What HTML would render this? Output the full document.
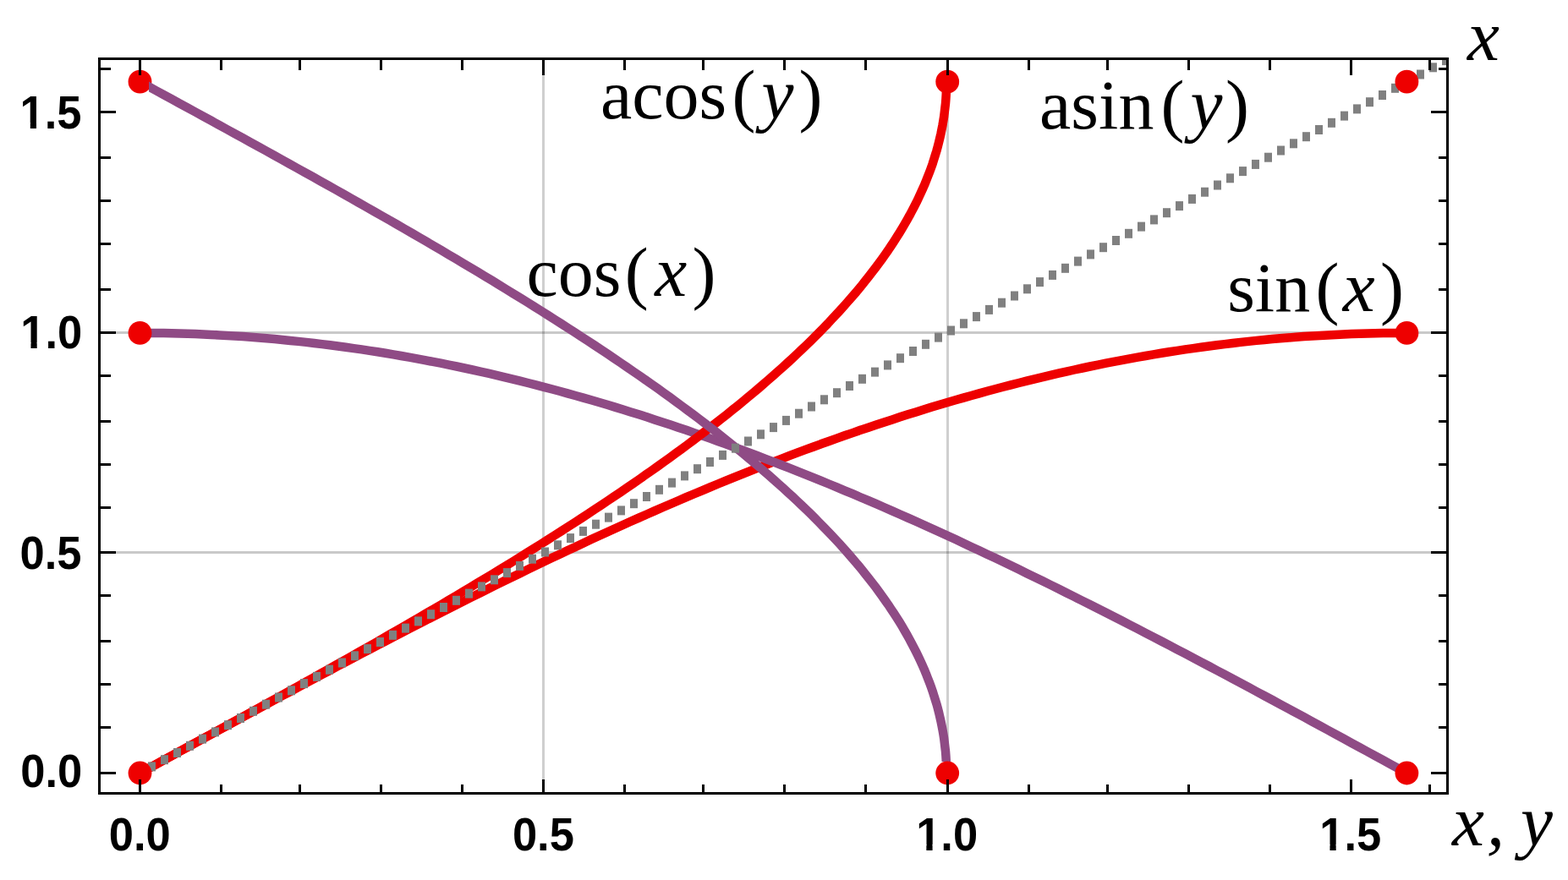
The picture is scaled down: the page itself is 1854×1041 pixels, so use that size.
<!DOCTYPE html>
<html lang="en"><head><meta charset="utf-8"><title>sin, cos, asin, acos</title>
<style>html,body{margin:0;padding:0;background:#fff;overflow:hidden}svg{display:block}.m{font-family:"Liberation Serif",serif;font-size:84px;fill:#000}.i{font-style:italic;font-size:85.5px}.t{font-family:"Liberation Sans",sans-serif;font-weight:bold;font-size:54px;fill:#000}</style></head><body>
<svg width="1854" height="1041" viewBox="0 0 1854 1041">
<defs><clipPath id="in"><rect x="119" y="71" width="1591" height="866"/></clipPath>
<clipPath id="ac"><rect x="176" y="68" width="1537" height="833"/></clipPath></defs>
<rect width="1854" height="1041" fill="#fff"/>
<g fill="#000" shape-rendering="crispEdges">
<rect x="641" y="68" width="3" height="872" fill-opacity="0.19"/>
<rect x="1119" y="68" width="3" height="872" fill-opacity="0.19"/>
<rect x="116" y="652" width="1597" height="3" fill-opacity="0.21"/>
<rect x="116" y="392" width="1597" height="3" fill-opacity="0.21"/>
</g>
<g fill="none" stroke-width="10.5" stroke-linejoin="round" stroke-linecap="butt">
<path stroke="#ee0000" d="M165.5 914.5 L174.9 909.4 L184.2 904.3 L193.6 899.2 L202.9 894.1 L212.3 889.0 L221.7 883.9 L231.0 878.8 L240.4 873.7 L249.8 868.6 L259.1 863.5 L268.5 858.4 L277.8 853.3 L287.2 848.2 L296.6 843.2 L305.9 838.1 L315.3 833.1 L324.7 828.0 L334.0 823.0 L343.4 818.0 L352.7 812.9 L362.1 807.9 L371.5 802.9 L380.8 797.9 L390.2 793.0 L399.5 788.0 L408.9 783.1 L418.3 778.1 L427.6 773.2 L437.0 768.3 L446.4 763.4 L455.7 758.5 L465.1 753.6 L474.4 748.8 L483.8 743.9 L493.2 739.1 L502.5 734.3 L511.9 729.5 L521.3 724.8 L530.6 720.0 L540.0 715.3 L549.3 710.6 L558.7 705.9 L568.1 701.2 L577.4 696.5 L586.8 691.9 L596.1 687.3 L605.5 682.7 L614.9 678.2 L624.2 673.6 L633.6 669.1 L643.0 664.6 L652.3 660.1 L661.7 655.7 L671.0 651.3 L680.4 646.9 L689.8 642.5 L699.1 638.1 L708.5 633.8 L717.9 629.5 L727.2 625.3 L736.6 621.0 L745.9 616.8 L755.3 612.6 L764.7 608.5 L774.0 604.4 L783.4 600.3 L792.8 596.2 L802.1 592.2 L811.5 588.2 L820.8 584.2 L830.2 580.3 L839.6 576.4 L848.9 572.5 L858.3 568.7 L867.6 564.9 L877.0 561.1 L886.4 557.4 L895.7 553.7 L905.1 550.0 L914.5 546.4 L923.8 542.8 L933.2 539.2 L942.5 535.7 L951.9 532.2 L961.3 528.8 L970.6 525.3 L980.0 522.0 L989.4 518.6 L998.7 515.3 L1008.1 512.1 L1017.4 508.8 L1026.8 505.7 L1036.2 502.5 L1045.5 499.4 L1054.9 496.4 L1064.2 493.3 L1073.6 490.3 L1083.0 487.4 L1092.3 484.5 L1101.7 481.6 L1111.1 478.8 L1120.4 476.0 L1129.8 473.3 L1139.1 470.6 L1148.5 468.0 L1157.9 465.4 L1167.2 462.8 L1176.6 460.3 L1186.0 457.8 L1195.3 455.4 L1204.7 453.0 L1214.0 450.6 L1223.4 448.3 L1232.8 446.1 L1242.1 443.9 L1251.5 441.7 L1260.8 439.6 L1270.2 437.5 L1279.6 435.5 L1288.9 433.5 L1298.3 431.6 L1307.7 429.7 L1317.0 427.9 L1326.4 426.1 L1335.7 424.3 L1345.1 422.6 L1354.5 421.0 L1363.8 419.4 L1373.2 417.8 L1382.6 416.3 L1391.9 414.9 L1401.3 413.4 L1410.6 412.1 L1420.0 410.8 L1429.4 409.5 L1438.7 408.3 L1448.1 407.1 L1457.4 406.0 L1466.8 404.9 L1476.2 403.9 L1485.5 402.9 L1494.9 402.0 L1504.3 401.1 L1513.6 400.3 L1523.0 399.5 L1532.3 398.8 L1541.7 398.1 L1551.1 397.5 L1560.4 396.9 L1569.8 396.4 L1579.2 395.9 L1588.5 395.5 L1597.9 395.1 L1607.2 394.8 L1616.6 394.5 L1626.0 394.3 L1635.3 394.1 L1644.7 394.0 L1654.0 393.9 L1663.4 393.9"/>
<path stroke="#8f4b85" d="M165.5 393.9 L174.9 393.9 L184.2 394.0 L193.6 394.1 L202.9 394.3 L212.3 394.5 L221.7 394.8 L231.0 395.1 L240.4 395.5 L249.8 395.9 L259.1 396.4 L268.5 396.9 L277.8 397.5 L287.2 398.1 L296.6 398.8 L305.9 399.5 L315.3 400.3 L324.7 401.1 L334.0 402.0 L343.4 402.9 L352.7 403.9 L362.1 404.9 L371.5 406.0 L380.8 407.1 L390.2 408.3 L399.5 409.5 L408.9 410.8 L418.3 412.1 L427.6 413.4 L437.0 414.9 L446.4 416.3 L455.7 417.8 L465.1 419.4 L474.4 421.0 L483.8 422.6 L493.2 424.3 L502.5 426.1 L511.9 427.9 L521.3 429.7 L530.6 431.6 L540.0 433.5 L549.3 435.5 L558.7 437.5 L568.1 439.6 L577.4 441.7 L586.8 443.9 L596.1 446.1 L605.5 448.3 L614.9 450.6 L624.2 453.0 L633.6 455.4 L643.0 457.8 L652.3 460.3 L661.7 462.8 L671.0 465.4 L680.4 468.0 L689.8 470.6 L699.1 473.3 L708.5 476.0 L717.9 478.8 L727.2 481.6 L736.6 484.5 L745.9 487.4 L755.3 490.3 L764.7 493.3 L774.0 496.4 L783.4 499.4 L792.8 502.5 L802.1 505.7 L811.5 508.8 L820.8 512.1 L830.2 515.3 L839.6 518.6 L848.9 522.0 L858.3 525.3 L867.6 528.8 L877.0 532.2 L886.4 535.7 L895.7 539.2 L905.1 542.8 L914.5 546.4 L923.8 550.0 L933.2 553.7 L942.5 557.4 L951.9 561.1 L961.3 564.9 L970.6 568.7 L980.0 572.5 L989.4 576.4 L998.7 580.3 L1008.1 584.2 L1017.4 588.2 L1026.8 592.2 L1036.2 596.2 L1045.5 600.3 L1054.9 604.4 L1064.2 608.5 L1073.6 612.6 L1083.0 616.8 L1092.3 621.0 L1101.7 625.3 L1111.1 629.5 L1120.4 633.8 L1129.8 638.1 L1139.1 642.5 L1148.5 646.9 L1157.9 651.3 L1167.2 655.7 L1176.6 660.1 L1186.0 664.6 L1195.3 669.1 L1204.7 673.6 L1214.0 678.2 L1223.4 682.7 L1232.8 687.3 L1242.1 691.9 L1251.5 696.5 L1260.8 701.2 L1270.2 705.9 L1279.6 710.6 L1288.9 715.3 L1298.3 720.0 L1307.7 724.8 L1317.0 729.5 L1326.4 734.3 L1335.7 739.1 L1345.1 743.9 L1354.5 748.8 L1363.8 753.6 L1373.2 758.5 L1382.6 763.4 L1391.9 768.3 L1401.3 773.2 L1410.6 778.1 L1420.0 783.1 L1429.4 788.0 L1438.7 793.0 L1448.1 797.9 L1457.4 802.9 L1466.8 807.9 L1476.2 812.9 L1485.5 818.0 L1494.9 823.0 L1504.3 828.0 L1513.6 833.1 L1523.0 838.1 L1532.3 843.2 L1541.7 848.2 L1551.1 853.3 L1560.4 858.4 L1569.8 863.5 L1579.2 868.6 L1588.5 873.7 L1597.9 878.8 L1607.2 883.9 L1616.6 889.0 L1626.0 894.1 L1635.3 899.2 L1644.7 904.3 L1654.0 909.4 L1663.4 914.5"/>
<path stroke="#ee0000" d="M165.5 914.5 L174.9 909.4 L184.2 904.3 L193.6 899.2 L202.9 894.1 L212.3 888.9 L221.6 883.8 L231.0 878.7 L240.3 873.6 L249.6 868.5 L259.0 863.4 L268.3 858.3 L277.6 853.2 L286.9 848.1 L296.2 842.9 L305.4 837.8 L314.7 832.7 L323.9 827.6 L333.1 822.5 L342.3 817.4 L351.5 812.3 L360.7 807.2 L369.9 802.1 L379.0 796.9 L388.1 791.8 L397.2 786.7 L406.3 781.6 L415.3 776.5 L424.3 771.4 L433.3 766.3 L442.3 761.2 L451.3 756.1 L460.2 750.9 L469.1 745.8 L477.9 740.7 L486.8 735.6 L495.6 730.5 L504.3 725.4 L513.1 720.3 L521.8 715.2 L530.4 710.1 L539.1 704.9 L547.7 699.8 L556.2 694.7 L564.7 689.6 L573.2 684.5 L581.7 679.4 L590.1 674.3 L598.4 669.2 L606.7 664.1 L615.0 659.0 L623.3 653.8 L631.4 648.7 L639.6 643.6 L647.7 638.5 L655.7 633.4 L663.8 628.3 L671.7 623.2 L679.6 618.1 L687.5 613.0 L695.3 607.8 L703.1 602.7 L710.8 597.6 L718.4 592.5 L726.0 587.4 L733.6 582.3 L741.1 577.2 L748.5 572.1 L755.9 567.0 L763.2 561.8 L770.5 556.7 L777.7 551.6 L784.8 546.5 L791.9 541.4 L798.9 536.3 L805.9 531.2 L812.8 526.1 L819.6 521.0 L826.4 515.8 L833.1 510.7 L839.8 505.6 L846.4 500.5 L852.9 495.4 L859.4 490.3 L865.7 485.2 L872.1 480.1 L878.3 475.0 L884.5 469.8 L890.6 464.7 L896.7 459.6 L902.6 454.5 L908.5 449.4 L914.4 444.3 L920.1 439.2 L925.8 434.1 L931.4 429.0 L937.0 423.8 L942.4 418.7 L947.8 413.6 L953.2 408.5 L958.4 403.4 L963.6 398.3 L968.6 393.2 L973.6 388.1 L978.6 383.0 L983.4 377.8 L988.2 372.7 L992.9 367.6 L997.5 362.5 L1002.0 357.4 L1006.5 352.3 L1010.9 347.2 L1015.2 342.1 L1019.4 337.0 L1023.5 331.8 L1027.5 326.7 L1031.5 321.6 L1035.4 316.5 L1039.2 311.4 L1042.9 306.3 L1046.5 301.2 L1050.1 296.1 L1053.5 291.0 L1056.9 285.8 L1060.2 280.7 L1063.4 275.6 L1066.5 270.5 L1069.5 265.4 L1072.4 260.3 L1075.3 255.2 L1078.0 250.1 L1080.7 245.0 L1083.3 239.9 L1085.8 234.7 L1088.2 229.6 L1090.5 224.5 L1092.8 219.4 L1094.9 214.3 L1096.9 209.2 L1098.9 204.1 L1100.8 199.0 L1102.6 193.9 L1104.2 188.7 L1105.8 183.6 L1107.4 178.5 L1108.8 173.4 L1110.1 168.3 L1111.3 163.2 L1112.5 158.1 L1113.5 153.0 L1114.5 147.9 L1115.4 142.7 L1116.2 137.6 L1116.8 132.5 L1117.4 127.4 L1118.0 122.3 L1118.4 117.2 L1118.7 112.1 L1118.9 107.0 L1119.1 101.9 L1119.1 96.7"/>
</g>
<g fill="#ee0000">
<circle cx="165.5" cy="393.9" r="13.9"/>
<circle cx="165.5" cy="96.7" r="13.9"/>
<circle cx="1120.2" cy="96.7" r="13.9"/>
<circle cx="1663.4" cy="914.5" r="13.9"/>
<circle cx="1663.4" cy="393.9" r="13.9"/>
</g>
<g clip-path="url(#ac)"><path fill="none" stroke-width="10.5" stroke-linejoin="round" stroke="#8f4b85" d="M1119.1 914.5 L1119.1 909.4 L1118.9 904.3 L1118.7 899.2 L1118.4 894.1 L1118.0 888.9 L1117.4 883.8 L1116.8 878.7 L1116.2 873.6 L1115.4 868.5 L1114.5 863.4 L1113.5 858.3 L1112.5 853.2 L1111.3 848.1 L1110.1 842.9 L1108.8 837.8 L1107.4 832.7 L1105.8 827.6 L1104.2 822.5 L1102.6 817.4 L1100.8 812.3 L1098.9 807.2 L1096.9 802.1 L1094.9 796.9 L1092.8 791.8 L1090.5 786.7 L1088.2 781.6 L1085.8 776.5 L1083.3 771.4 L1080.7 766.3 L1078.0 761.2 L1075.3 756.1 L1072.4 750.9 L1069.5 745.8 L1066.5 740.7 L1063.4 735.6 L1060.2 730.5 L1056.9 725.4 L1053.5 720.3 L1050.1 715.2 L1046.5 710.1 L1042.9 704.9 L1039.2 699.8 L1035.4 694.7 L1031.5 689.6 L1027.5 684.5 L1023.5 679.4 L1019.4 674.3 L1015.2 669.2 L1010.9 664.1 L1006.5 659.0 L1002.0 653.8 L997.5 648.7 L992.9 643.6 L988.2 638.5 L983.4 633.4 L978.6 628.3 L973.6 623.2 L968.6 618.1 L963.6 613.0 L958.4 607.8 L953.2 602.7 L947.8 597.6 L942.4 592.5 L937.0 587.4 L931.4 582.3 L925.8 577.2 L920.1 572.1 L914.4 567.0 L908.5 561.8 L902.6 556.7 L896.7 551.6 L890.6 546.5 L884.5 541.4 L878.3 536.3 L872.1 531.2 L865.7 526.1 L859.4 521.0 L852.9 515.8 L846.4 510.7 L839.8 505.6 L833.1 500.5 L826.4 495.4 L819.6 490.3 L812.8 485.2 L805.9 480.1 L798.9 475.0 L791.9 469.8 L784.8 464.7 L777.7 459.6 L770.5 454.5 L763.2 449.4 L755.9 444.3 L748.5 439.2 L741.1 434.1 L733.6 429.0 L726.0 423.8 L718.4 418.7 L710.8 413.6 L703.1 408.5 L695.3 403.4 L687.5 398.3 L679.6 393.2 L671.7 388.1 L663.8 383.0 L655.7 377.8 L647.7 372.7 L639.6 367.6 L631.4 362.5 L623.3 357.4 L615.0 352.3 L606.7 347.2 L598.4 342.1 L590.1 337.0 L581.7 331.8 L573.2 326.7 L564.7 321.6 L556.2 316.5 L547.7 311.4 L539.1 306.3 L530.4 301.2 L521.8 296.1 L513.1 291.0 L504.3 285.8 L495.6 280.7 L486.8 275.6 L477.9 270.5 L469.1 265.4 L460.2 260.3 L451.3 255.2 L442.3 250.1 L433.3 245.0 L424.3 239.9 L415.3 234.7 L406.3 229.6 L397.2 224.5 L388.1 219.4 L379.0 214.3 L369.9 209.2 L360.7 204.1 L351.5 199.0 L342.3 193.9 L333.1 188.7 L323.9 183.6 L314.7 178.5 L305.4 173.4 L296.2 168.3 L286.9 163.2 L277.6 158.1 L268.3 153.0 L259.0 147.9 L249.6 142.7 L240.3 137.6 L231.0 132.5 L221.6 127.4 L212.3 122.3 L202.9 117.2 L193.6 112.1 L184.2 107.0 L174.9 101.9 L165.5 96.7"/></g>
<circle cx="1120.2" cy="914.5" r="13.9" fill="#ee0000"/>
<g fill="#808080" clip-path="url(#in)">
<rect x="175.0" y="901.4" width="9" height="11"/>
<rect x="190.0" y="893.2" width="9" height="11"/>
<rect x="205.0" y="885.0" width="9" height="11"/>
<rect x="220.0" y="876.8" width="9" height="11"/>
<rect x="235.0" y="868.6" width="9" height="11"/>
<rect x="250.0" y="860.4" width="9" height="11"/>
<rect x="265.0" y="852.2" width="9" height="11"/>
<rect x="280.0" y="844.0" width="9" height="11"/>
<rect x="295.0" y="835.8" width="9" height="11"/>
<rect x="310.0" y="827.7" width="9" height="11"/>
<rect x="325.0" y="819.5" width="9" height="11"/>
<rect x="340.0" y="811.3" width="9" height="11"/>
<rect x="355.0" y="803.1" width="9" height="11"/>
<rect x="370.0" y="794.9" width="9" height="11"/>
<rect x="385.0" y="786.7" width="9" height="11"/>
<rect x="400.0" y="778.5" width="9" height="11"/>
<rect x="415.0" y="770.3" width="9" height="11"/>
<rect x="430.0" y="762.1" width="9" height="11"/>
<rect x="445.0" y="754.0" width="9" height="11"/>
<rect x="460.0" y="745.8" width="9" height="11"/>
<rect x="475.0" y="737.6" width="9" height="11"/>
<rect x="490.0" y="729.4" width="9" height="11"/>
<rect x="505.0" y="721.2" width="9" height="11"/>
<rect x="520.0" y="713.0" width="9" height="11"/>
<rect x="535.0" y="704.8" width="9" height="11"/>
<rect x="550.0" y="696.6" width="9" height="11"/>
<rect x="565.0" y="688.4" width="9" height="11"/>
<rect x="580.0" y="680.3" width="9" height="11"/>
<rect x="595.0" y="672.1" width="9" height="11"/>
<rect x="610.0" y="663.9" width="9" height="11"/>
<rect x="625.0" y="655.7" width="9" height="11"/>
<rect x="640.0" y="647.5" width="9" height="11"/>
<rect x="655.0" y="639.3" width="9" height="11"/>
<rect x="670.0" y="631.1" width="9" height="11"/>
<rect x="685.0" y="622.9" width="9" height="11"/>
<rect x="700.0" y="614.7" width="9" height="11"/>
<rect x="715.0" y="606.6" width="9" height="11"/>
<rect x="730.0" y="598.4" width="9" height="11"/>
<rect x="745.0" y="590.2" width="9" height="11"/>
<rect x="760.0" y="582.0" width="9" height="11"/>
<rect x="775.0" y="573.8" width="9" height="11"/>
<rect x="790.0" y="565.6" width="9" height="11"/>
<rect x="805.0" y="557.4" width="9" height="11"/>
<rect x="820.0" y="549.2" width="9" height="11"/>
<rect x="835.0" y="541.0" width="9" height="11"/>
<rect x="850.0" y="532.9" width="9" height="11"/>
<rect x="865.0" y="524.7" width="9" height="11"/>
<rect x="880.0" y="516.5" width="9" height="11"/>
<rect x="895.0" y="508.3" width="9" height="11"/>
<rect x="910.0" y="500.1" width="9" height="11"/>
<rect x="925.0" y="491.9" width="9" height="11"/>
<rect x="940.0" y="483.7" width="9" height="11"/>
<rect x="955.0" y="475.5" width="9" height="11"/>
<rect x="970.0" y="467.3" width="9" height="11"/>
<rect x="985.0" y="459.2" width="9" height="11"/>
<rect x="1000.0" y="451.0" width="9" height="11"/>
<rect x="1015.0" y="442.8" width="9" height="11"/>
<rect x="1030.0" y="434.6" width="9" height="11"/>
<rect x="1045.0" y="426.4" width="9" height="11"/>
<rect x="1060.0" y="418.2" width="9" height="11"/>
<rect x="1075.0" y="410.0" width="9" height="11"/>
<rect x="1090.0" y="401.8" width="9" height="11"/>
<rect x="1105.0" y="393.6" width="9" height="11"/>
<rect x="1120.0" y="385.5" width="9" height="11"/>
<rect x="1135.0" y="377.3" width="9" height="11"/>
<rect x="1150.0" y="369.1" width="9" height="11"/>
<rect x="1165.0" y="360.9" width="9" height="11"/>
<rect x="1180.0" y="352.7" width="9" height="11"/>
<rect x="1195.0" y="344.5" width="9" height="11"/>
<rect x="1210.0" y="336.3" width="9" height="11"/>
<rect x="1225.0" y="328.1" width="9" height="11"/>
<rect x="1240.0" y="319.9" width="9" height="11"/>
<rect x="1255.0" y="311.8" width="9" height="11"/>
<rect x="1270.0" y="303.6" width="9" height="11"/>
<rect x="1285.0" y="295.4" width="9" height="11"/>
<rect x="1300.0" y="287.2" width="9" height="11"/>
<rect x="1315.0" y="279.0" width="9" height="11"/>
<rect x="1330.0" y="270.8" width="9" height="11"/>
<rect x="1345.0" y="262.6" width="9" height="11"/>
<rect x="1360.0" y="254.4" width="9" height="11"/>
<rect x="1375.0" y="246.2" width="9" height="11"/>
<rect x="1390.0" y="238.1" width="9" height="11"/>
<rect x="1405.0" y="229.9" width="9" height="11"/>
<rect x="1420.0" y="221.7" width="9" height="11"/>
<rect x="1435.0" y="213.5" width="9" height="11"/>
<rect x="1450.0" y="205.3" width="9" height="11"/>
<rect x="1465.0" y="197.1" width="9" height="11"/>
<rect x="1480.0" y="188.9" width="9" height="11"/>
<rect x="1495.0" y="180.7" width="9" height="11"/>
<rect x="1510.0" y="172.5" width="9" height="11"/>
<rect x="1525.0" y="164.3" width="9" height="11"/>
<rect x="1540.0" y="156.2" width="9" height="11"/>
<rect x="1555.0" y="148.0" width="9" height="11"/>
<rect x="1570.0" y="139.8" width="9" height="11"/>
<rect x="1585.0" y="131.6" width="9" height="11"/>
<rect x="1600.0" y="123.4" width="9" height="11"/>
<rect x="1615.0" y="115.2" width="9" height="11"/>
<rect x="1630.0" y="107.0" width="9" height="11"/>
<rect x="1645.0" y="98.8" width="9" height="11"/>
<rect x="1660.0" y="90.6" width="9" height="11"/>
<rect x="1675.0" y="82.5" width="9" height="11"/>
<rect x="1690.0" y="74.3" width="9" height="11"/>
<rect x="1705.0" y="66.1" width="9" height="11"/>
</g>
<circle cx="165.5" cy="914.5" r="13.9" fill="#ee0000"/>
<circle cx="1663.4" cy="96.7" r="13.9" fill="#ee0000"/>
<g fill="#000" shape-rendering="crispEdges">
<rect x="116" y="68" width="1597" height="3"/>
<rect x="116" y="937" width="1597" height="3"/>
<rect x="116" y="68" width="3" height="872"/>
<rect x="1710" y="68" width="3" height="872"/>
<rect x="164" y="922" width="3" height="15"/>
<rect x="164" y="71" width="3" height="18"/>
<rect x="260" y="928" width="3" height="9"/>
<rect x="260" y="71" width="3" height="12"/>
<rect x="353" y="928" width="3" height="9"/>
<rect x="353" y="71" width="3" height="12"/>
<rect x="449" y="928" width="3" height="9"/>
<rect x="449" y="71" width="3" height="12"/>
<rect x="545" y="928" width="3" height="9"/>
<rect x="545" y="71" width="3" height="12"/>
<rect x="641" y="922" width="3" height="15"/>
<rect x="641" y="71" width="3" height="18"/>
<rect x="737" y="928" width="3" height="9"/>
<rect x="737" y="71" width="3" height="12"/>
<rect x="830" y="928" width="3" height="9"/>
<rect x="830" y="71" width="3" height="12"/>
<rect x="926" y="928" width="3" height="9"/>
<rect x="926" y="71" width="3" height="12"/>
<rect x="1022" y="928" width="3" height="9"/>
<rect x="1022" y="71" width="3" height="12"/>
<rect x="1119" y="922" width="3" height="15"/>
<rect x="1119" y="71" width="3" height="18"/>
<rect x="1215" y="928" width="3" height="9"/>
<rect x="1215" y="71" width="3" height="12"/>
<rect x="1308" y="928" width="3" height="9"/>
<rect x="1308" y="71" width="3" height="12"/>
<rect x="1404" y="928" width="3" height="9"/>
<rect x="1404" y="71" width="3" height="12"/>
<rect x="1500" y="928" width="3" height="9"/>
<rect x="1500" y="71" width="3" height="12"/>
<rect x="1596" y="922" width="3" height="15"/>
<rect x="1596" y="71" width="3" height="18"/>
<rect x="1689" y="928" width="3" height="9"/>
<rect x="1689" y="71" width="3" height="12"/>
<rect x="119" y="913" width="18" height="3"/>
<rect x="1692" y="913" width="18" height="3"/>
<rect x="119" y="859" width="12" height="3"/>
<rect x="1701" y="859" width="9" height="3"/>
<rect x="119" y="808" width="12" height="3"/>
<rect x="1701" y="808" width="9" height="3"/>
<rect x="119" y="757" width="12" height="3"/>
<rect x="1701" y="757" width="9" height="3"/>
<rect x="119" y="703" width="12" height="3"/>
<rect x="1701" y="703" width="9" height="3"/>
<rect x="119" y="652" width="18" height="3"/>
<rect x="1692" y="652" width="18" height="3"/>
<rect x="119" y="599" width="12" height="3"/>
<rect x="1701" y="599" width="9" height="3"/>
<rect x="119" y="548" width="12" height="3"/>
<rect x="1701" y="548" width="9" height="3"/>
<rect x="119" y="497" width="12" height="3"/>
<rect x="1701" y="497" width="9" height="3"/>
<rect x="119" y="443" width="12" height="3"/>
<rect x="1701" y="443" width="9" height="3"/>
<rect x="119" y="392" width="18" height="3"/>
<rect x="1692" y="392" width="18" height="3"/>
<rect x="119" y="341" width="12" height="3"/>
<rect x="1701" y="341" width="9" height="3"/>
<rect x="119" y="287" width="12" height="3"/>
<rect x="1701" y="287" width="9" height="3"/>
<rect x="119" y="236" width="12" height="3"/>
<rect x="1701" y="236" width="9" height="3"/>
<rect x="119" y="185" width="12" height="3"/>
<rect x="1701" y="185" width="9" height="3"/>
<rect x="119" y="131" width="18" height="3"/>
<rect x="1692" y="131" width="18" height="3"/>
<rect x="119" y="80" width="12" height="3"/>
<rect x="1701" y="80" width="9" height="3"/>
</g>
<g transform="translate(165.3 1005.6) scale(0.972 1.03)"><text class="t" text-anchor="middle">0.0</text></g>
<g transform="translate(642.4 1005.6) scale(0.972 1.03)"><text class="t" text-anchor="middle">0.5</text></g>
<g transform="translate(1119.6 1005.6) scale(0.972 1.03)"><text class="t" text-anchor="middle">1.0</text><rect x="-35.16" y="-6.51" width="10.23" height="8" fill="#fff"/><rect x="-17.52" y="-6.51" width="9.52" height="8" fill="#fff"/></g>
<g transform="translate(1596.7 1005.6) scale(0.972 1.03)"><text class="t" text-anchor="middle">1.5</text><rect x="-35.16" y="-6.51" width="10.23" height="8" fill="#fff"/><rect x="-17.52" y="-6.51" width="9.52" height="8" fill="#fff"/></g>
<g transform="translate(97.2 930.7) scale(0.972 1.03)"><text class="t" text-anchor="end">0.0</text></g>
<g transform="translate(96.5 672.7) scale(0.972 1.03)"><text class="t" text-anchor="end">0.5</text></g>
<g transform="translate(97.2 411.9) scale(0.972 1.03)"><text class="t" text-anchor="end">1.0</text><rect x="-72.69" y="-6.51" width="10.23" height="8" fill="#fff"/><rect x="-55.05" y="-6.51" width="9.52" height="8" fill="#fff"/></g>
<g transform="translate(96.5 151.7) scale(0.972 1.03)"><text class="t" text-anchor="end">1.5</text><rect x="-72.69" y="-6.51" width="10.23" height="8" fill="#fff"/><rect x="-55.05" y="-6.51" width="9.52" height="8" fill="#fff"/></g>
<text class="m" transform="translate(0 139.9) scale(1 0.98)"><tspan x="709.9" y="0">acos</tspan><tspan x="865.6" y="0">(</tspan><tspan x="900.5" y="0" class="i">y</tspan><tspan x="944.4" y="0">)</tspan></text>
<text class="m" transform="translate(0 151.9) scale(1 0.98)"><tspan x="1229.1" y="0">asin</tspan><tspan x="1372.6" y="0">(</tspan><tspan x="1407.6" y="0" class="i">y</tspan><tspan x="1448.9" y="0">)</tspan></text>
<text class="m" transform="translate(0 349.9) scale(1 0.98)"><tspan x="622.6" y="0">cos</tspan><tspan x="738.8" y="0">(</tspan><tspan x="774.3" y="0" class="i">x</tspan><tspan x="818.5" y="0">)</tspan></text>
<text class="m" transform="translate(0 367.9) scale(1 0.98)"><tspan x="1451.2" y="0">sin</tspan><tspan x="1555.5" y="0">(</tspan><tspan x="1587.8" y="0" class="i">x</tspan><tspan x="1632" y="0">)</tspan></text>
<text class="m" transform="translate(0 71.4) scale(1 0.98)"><tspan x="1735" y="0" class="i">x</tspan></text>
<text class="m" transform="translate(0 1000.4) scale(1 0.98)"><tspan x="1716.9" y="0" class="i">x</tspan><tspan x="1757.7" y="0" class="i">, </tspan><tspan x="1798.1" y="0" class="i">y</tspan></text>
</svg></body></html>
